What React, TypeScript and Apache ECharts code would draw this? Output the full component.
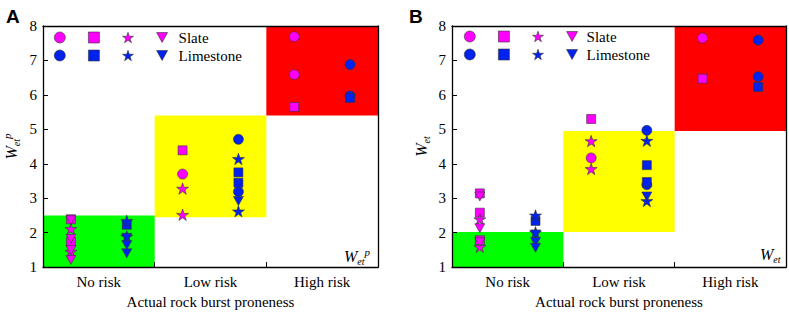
import React, { useEffect, useRef } from "react";
import * as echarts from "echarts";

const categories = ["No risk", "Low risk", "High risk"];
const yMin = 1;
const yMax = 8;

// [categoryIndex, value]
const A_slateCircle = [[1, 3.70], [2, 7.69], [2, 6.59]];
const A_slateSquare = [[0, 2.39], [0, 1.73], [1, 4.39], [2, 5.65]];
const A_slateStar = [[0, 2.11], [0, 1.45], [1, 3.28], [1, 2.52]];
const A_slateTri = [[0, 2.36], [0, 1.82], [0, 1.50], [0, 1.21]];
const A_limeCircle = [[1, 4.71], [1, 3.19], [2, 6.88], [2, 5.97]];
const A_limeSquare = [[0, 2.23], [1, 3.75], [1, 3.45], [2, 5.91]];
const A_limeStar = [[0, 2.34], [0, 1.89], [1, 4.14], [1, 2.62]];
const A_limeTri = [[0, 1.85], [0, 1.64], [0, 1.40], [1, 2.92]];

const B_slateCircle = [[1, 4.17], [2, 7.65]];
const B_slateSquare = [[0, 3.14], [0, 2.58], [0, 1.78], [1, 5.30], [2, 6.47]];
const B_slateStar = [[0, 2.39], [0, 1.59], [1, 4.66], [1, 3.85]];
const B_slateTri = [[0, 3.05], [0, 2.13], [0, 1.72]];
const B_limeCircle = [[1, 4.97], [1, 3.39], [2, 7.59], [2, 6.53]];
const B_limeSquare = [[0, 2.34], [1, 3.96], [1, 3.47], [2, 6.23]];
const B_limeStar = [[0, 2.50], [0, 2.01], [1, 4.67], [1, 2.92]];
const B_limeTri = [[0, 1.95], [0, 1.73], [0, 1.56], [1, 3.05]];

// zones: [fromCategory, toCategory, yFrom, yTo]
const A_zones = [[0, 1, 1, 2.5], [1, 2, 2.45, 5.4], [2, 3, 5.4, 8]];
const B_zones = [[0, 1, 1, 2.02], [1, 2, 2.02, 4.95], [2, 3, 4.95, 8]];
const zoneColors = ["#00ff00", "#ffff00", "#ff0000"];

const STAR =
  "path://M50,0L61.23,34.55L97.55,34.55L68.17,55.9L79.39,90.45L50,69.1L20.61,90.45L31.83,55.9L2.45,34.55L38.77,34.55Z";
const TRI_DOWN = "path://M0,0L10,0L5,9Z";

const SLATE = "#ff00ff";
const LIME = "#0022ee";
const SERIF = "Liberation Serif";
const SANS = "Liberation Sans";

const shapes = [
  { key: "circle", symbol: "circle", size: 10 },
  { key: "square", symbol: "rect", size: 9 },
  { key: "star", symbol: STAR, size: 12 },
  { key: "tri", symbol: TRI_DOWN, size: 10 },
];

function buildPanel(
  gi: number,
  slate: number[][][],
  lime: number[][][],
  zones: number[][]
) {
  const series: any[] = [];
  series.push({
    type: "scatter",
    name: "zones" + gi,
    xAxisIndex: gi * 2 + 1,
    yAxisIndex: gi * 2,
    data: [],
    silent: true,
    markArea: {
      silent: true,
      data: zones.map((z, i) => [
        { xAxis: z[0], yAxis: z[2], itemStyle: { color: zoneColors[i], opacity: 1 } },
        { xAxis: z[1], yAxis: z[3] },
      ]),
    },
  });
  const add = (arr: number[][][], color: string, label: string, off: number) => {
    arr.forEach((d, si) => {
      const sh = shapes[si];
      series.push({
        type: "scatter",
        name: label + " " + sh.key,
        xAxisIndex: gi * 2 + 1,
        yAxisIndex: gi * 2,
        symbol: sh.symbol,
        symbolSize: sh.size,
        symbolKeepAspect: true,
        itemStyle: { color, borderColor: "#333", borderWidth: 0.6, opacity: 1 },
        data: d.map((p) => [p[0] + 0.5 + off, p[1]]),
        z: 3,
      });
    });
  };
  add(slate, SLATE, "Slate", -0.25);
  add(lime, LIME, "Limestone", 0.25);
  return series;
}

export default function App() {
  const ref = useRef<HTMLDivElement>(null);
  useEffect(() => {
    if (!ref.current) return;
    const chart = echarts.init(ref.current, undefined, { renderer: "svg" });
    const grids = [
      { left: 42, top: 26, width: 336, height: 248 },
      { left: 452, top: 26, width: 334, height: 248 },
    ];
    const axisLine = { show: true, lineStyle: { color: "#000", width: 1.3 } };
    const xAxes: any[] = [];
    const yAxes: any[] = [];
    const yNames = ["{w|W}{sub|et}{sup|p}", "{w|W}{sub|et}"];
    const rich = {
      w: { fontFamily: SERIF, fontStyle: "italic", fontSize: 16, color: "#000" },
      sub: { fontFamily: SERIF, fontStyle: "italic", fontSize: 10, color: "#000", padding: [10, 0, 0, 0] },
      sup: { fontFamily: SERIF, fontStyle: "italic", fontSize: 11, color: "#000", padding: [0, 0, 10, 0] },
    };
    grids.forEach((_, gi) => {
      xAxes.push({
        type: "category",
        gridIndex: gi,
        data: categories,
        position: "bottom",
        z: 10,
        axisLine,
        axisTick: { show: true, inside: true, length: 5, alignWithLabel: false, lineStyle: { color: "#000" } },
        axisLabel: { fontFamily: SERIF, fontSize: 15, color: "#000", margin: 7 },
        splitLine: { show: false },
        name: "Actual rock burst proneness",
        nameLocation: "middle",
        nameGap: 26,
        nameTextStyle: { fontFamily: SERIF, fontSize: 15, color: "#000" },
      });
      xAxes.push({
        type: "value",
        gridIndex: gi,
        min: 0,
        max: 3,
        position: "top",
        z: 10,
        axisLine,
        axisTick: { show: false },
        axisLabel: { show: false },
        splitLine: { show: false },
      });
      yAxes.push({
        type: "value",
        gridIndex: gi,
        min: yMin,
        max: yMax,
        interval: 1,
        position: "left",
        z: 10,
        axisLine,
        axisTick: { show: true, inside: true, length: 5, lineStyle: { color: "#000" } },
        axisLabel: { fontFamily: SERIF, fontSize: 15, color: "#000", margin: 6 },
        splitLine: { show: false },
        name: yNames[gi],
        nameLocation: "middle",
        nameGap: 21,
        nameRotate: 90,
        nameTextStyle: { rich },
      });
      yAxes.push({
        type: "value",
        gridIndex: gi,
        min: yMin,
        max: yMax,
        position: "right",
        z: 10,
        axisLine,
        axisTick: { show: false },
        axisLabel: { show: false },
        splitLine: { show: false },
      });
    });

    const series = [
      ...buildPanel(0, [A_slateCircle, A_slateSquare, A_slateStar, A_slateTri], [A_limeCircle, A_limeSquare, A_limeStar, A_limeTri], A_zones),
      ...buildPanel(1, [B_slateCircle, B_slateSquare, B_slateStar, B_slateTri], [B_limeCircle, B_limeSquare, B_limeStar, B_limeTri], B_zones),
    ];

    const legendBase = (label: string, color: string, left: number, top: number, pad: number) => ({
      data: shapes.map((s) => label + " " + s.key),
      left,
      top,
      orient: "horizontal",
      itemWidth: 11,
      itemHeight: 11,
      itemGap: 22.5,
      selectedMode: false,
      itemStyle: { color, borderColor: "#333", borderWidth: 0.6 },
      textStyle: { fontFamily: SERIF, fontSize: 15, color: "#000", padding: [0, 0, 0, pad] },
      formatter: (n: string) => (n === label + " tri" ? label : ""),
    });

    const option: any = {
      animation: false,
      backgroundColor: "#fff",
      title: [
        { text: "A", left: 1, top: 2, textStyle: { fontFamily: SANS, fontSize: 19, fontWeight: "bold", color: "#000" } },
        { text: "B", left: 404, top: 2, textStyle: { fontFamily: SANS, fontSize: 19, fontWeight: "bold", color: "#000" } },
      ],
      grid: grids,
      xAxis: xAxes,
      yAxis: yAxes,
      legend: [
        legendBase("Slate", SLATE, 49, 25, 6),
        legendBase("Limestone", LIME, 49, 43, 6),
        legendBase("Slate", SLATE, 459, 24, 4),
        legendBase("Limestone", LIME, 459, 42, 4),
      ],
      graphic: [
        { type: "text", left: 344, top: 246, style: { text: "{w|W}{sub|et}{sup|p}", rich } },
        { type: "text", left: 760, top: 246, style: { text: "{w|W}{sub|et}", rich } },
      ],
      series,
    };
    chart.setOption(option);
    return () => chart.dispose();
  }, []);
  return (
    <div
      ref={ref}
      style={{ position: "absolute", left: 0, top: 0, width: 789, height: 314 }}
    />
  );
}
